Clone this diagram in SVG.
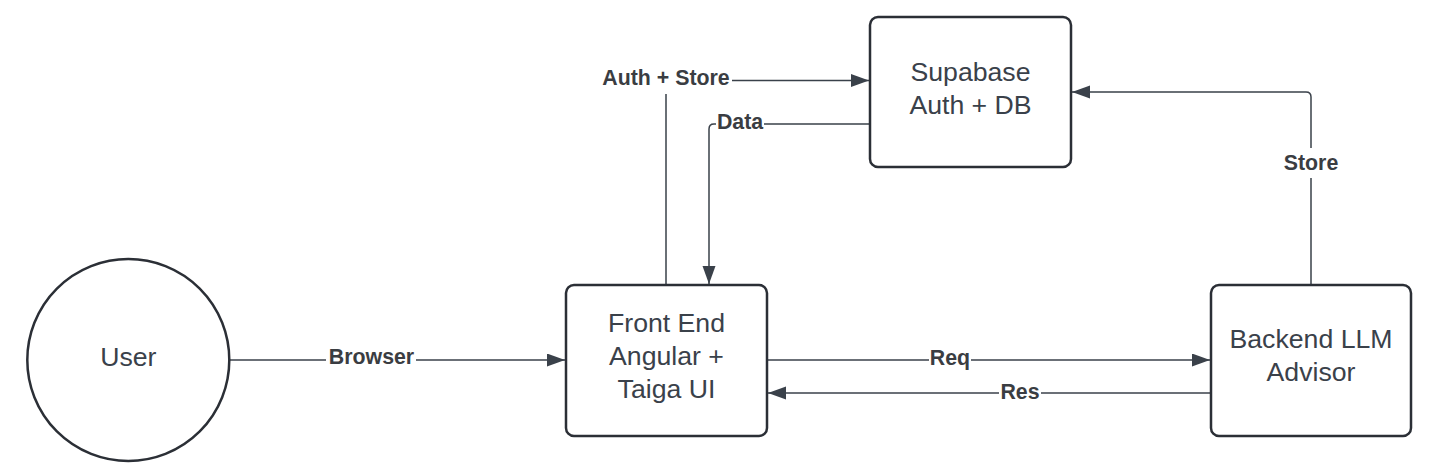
<svg xmlns="http://www.w3.org/2000/svg" width="1453" height="476" viewBox="0 0 1453 476">
  <style>
    .node { fill: #ffffff; stroke: #2b2f36; stroke-width: 2.5; }
    .ntext { font-family: "Liberation Sans", Arial, sans-serif; font-size: 26.67px; fill: #3a414a; text-anchor: middle; }
    .edge { fill: none; stroke: #3a414a; stroke-width: 1.5; }
    .lbg { fill: #ffffff; }
    .ltext { font-family: "Liberation Sans", Arial, sans-serif; font-size: 21.33px; font-weight: bold; fill: #3a3d42; text-anchor: middle; }
  </style>
  <defs>
    <marker id="arrow" markerUnits="userSpaceOnUse" markerWidth="19" markerHeight="14" refX="18" refY="6.5" orient="auto">
      <path d="M0,0 L18,6.5 L0,13 Z" fill="#3a414a"/>
    </marker>
  </defs>
  <rect width="1453" height="476" fill="#ffffff"/>

  <g id="connectors">
    <path class="edge" d="M229,360 H565" marker-end="url(#arrow)"/>
    <path class="edge" d="M666,285 V80.5 H869" marker-end="url(#arrow)"/>
    <path class="edge" d="M870,124 H714 Q709,124 709,129 V284" marker-end="url(#arrow)"/>
    <path class="edge" d="M1311,285 V97 Q1311,92 1306,92 H1072" marker-end="url(#arrow)"/>
    <path class="edge" d="M767,360 H1210" marker-end="url(#arrow)"/>
    <path class="edge" d="M1211,393 H768" marker-end="url(#arrow)"/>

    <rect class="lbg" x="326" y="347" width="90" height="26"/>
    <text class="ltext" x="371.5" y="364">Browser</text>
    <rect class="lbg" x="599" y="67" width="133" height="27"/>
    <text class="ltext" x="666" y="85">Auth + Store</text>
    <rect class="lbg" x="716" y="111" width="48" height="26"/>
    <text class="ltext" x="740" y="128.5">Data</text>
    <rect class="lbg" x="1283" y="148" width="57" height="30"/>
    <text class="ltext" x="1311" y="170">Store</text>
    <rect class="lbg" x="929" y="348" width="42" height="26"/>
    <text class="ltext" x="950" y="365">Req</text>
    <rect class="lbg" x="999" y="381" width="42" height="26"/>
    <text class="ltext" x="1020" y="399">Res</text>
  </g>

  <g id="user">
    <circle class="node" cx="128.3" cy="360" r="101"/>
    <text class="ntext" x="128.3" y="366">User</text>
  </g>

  <g id="frontend">
    <rect class="node" x="566" y="285" width="201" height="151" rx="8" ry="8"/>
    <text class="ntext" x="666.5" y="331.5">Front End</text>
    <text class="ntext" x="666.5" y="364.5">Angular +</text>
    <text class="ntext" x="666.5" y="397.5">Taiga UI</text>
  </g>

  <g id="supabase">
    <rect class="node" x="870" y="17" width="201" height="150" rx="8" ry="8"/>
    <text class="ntext" x="970.5" y="81">Supabase</text>
    <text class="ntext" x="970.5" y="114">Auth + DB</text>
  </g>

  <g id="backend">
    <rect class="node" x="1211" y="285" width="200" height="151" rx="8" ry="8"/>
    <text class="ntext" x="1311" y="348">Backend LLM</text>
    <text class="ntext" x="1311" y="381">Advisor</text>
  </g>
</svg>
